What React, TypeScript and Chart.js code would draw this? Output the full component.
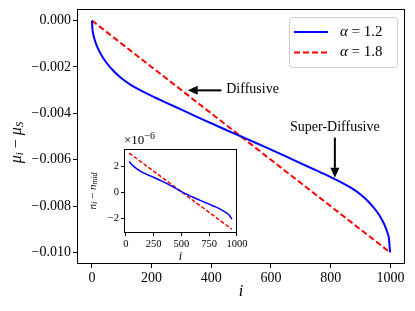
import React, { useEffect, useRef } from 'react';
import { Chart, registerables } from 'chart.js';

Chart.register(...registerables);

const SERIF = '"Liberation Serif", "DejaVu Serif", serif';

// ---------- main chart data ----------
const ALPHAS = [1.2, 1.8];
const X_TICKS = [0, 200, 400, 600, 800, 1000];
const Y_TICKS = [-0.01, -0.008, -0.006, -0.004, -0.002, 0.0];
const X_RANGE = [-50, 1049];
const Y_RANGE = [-0.0105, 0.0005];

const BLUE_I = [0, 2, 5, 10, 20, 35, 50, 75, 100, 130, 160, 200, 250, 300, 350, 400, 450, 500, 550, 600, 650, 700, 750, 800, 840, 870, 900, 925, 950, 965, 980, 990, 995, 999];
const BLUE_MU = [0, -0.0004, -0.00062, -0.00086, -0.0012, -0.00156, -0.00184, -0.00221, -0.0025, -0.00277, -0.00299, -0.00325, -0.00355, -0.00384, -0.00414, -0.00443, -0.00472, -0.005, -0.00528, -0.00557, -0.00586, -0.00616, -0.00645, -0.00675, -0.00701, -0.00723, -0.0075, -0.00779, -0.00816, -0.00844, -0.0088, -0.00914, -0.00938, -0.01];
const RED_I = [0, 999];
const RED_MU = [0, -0.01];

// annotations (data coordinates)
const ANNOT_TEXT = ['Diffusive', 'Super-Diffusive'];
const ANNOT_ALIGN: CanvasTextAlign[] = ['left', 'center'];
const ANNOT_TEXT_POS = [[450, -0.00295], [814, -0.00462]];
const ANNOT_TAIL = [[434, -0.00301], [814, -0.00505]];
const ANNOT_TIP = [[321, -0.00301], [814, -0.00678]];

// ---------- inset data (n_i - n_mid in units of 1e-6) ----------
const INSET_X_TICKS = [0, 250, 500, 750, 1000];
const INSET_Y_TICKS = [-2, 0, 2];
const INSET_X_RANGE = [-16, 1001];
const INSET_Y_RANGE = [-3.14, 3.33];
const INSET_BLUE_I = [30, 60, 100, 130, 175, 250, 325, 400, 450, 500, 550, 600, 675, 750, 800, 850, 900, 930, 955];
const INSET_BLUE_N = [2.37, 2.08, 1.8, 1.63, 1.43, 1.15, 0.85, 0.53, 0.3, 0.05, -0.17, -0.37, -0.65, -0.92, -1.1, -1.3, -1.56, -1.76, -2.07];
const INSET_RED_I = [30, 955];
const INSET_RED_N = [3.02, -2.85];

const BLUE = '#0000ff';
const RED = '#ff0000';

type Seg = { t: string; f: string; dy?: number };

function drawRich(ctx: CanvasRenderingContext2D, segs: Seg[], x: number, y: number, align: 'left' | 'center') {
  let w = 0;
  const ws = segs.map((s) => {
    ctx.font = s.f;
    const m = ctx.measureText(s.t).width;
    w += m;
    return m;
  });
  let cx = align === 'center' ? x - w / 2 : x;
  ctx.textAlign = 'left';
  ctx.textBaseline = 'middle';
  segs.forEach((s, i) => {
    ctx.font = s.f;
    ctx.fillText(s.t, cx, y + (s.dy || 0));
    cx += ws[i];
  });
}

function arrow(ctx: CanvasRenderingContext2D, x1: number, y1: number, x2: number, y2: number) {
  const ang = Math.atan2(y2 - y1, x2 - x1);
  const hl = 10;
  const hw = 4.5;
  const bx = x2 - hl * Math.cos(ang);
  const by = y2 - hl * Math.sin(ang);
  ctx.strokeStyle = '#000';
  ctx.fillStyle = '#000';
  ctx.lineWidth = 2;
  ctx.beginPath();
  ctx.moveTo(x1, y1);
  ctx.lineTo(bx, by);
  ctx.stroke();
  ctx.beginPath();
  ctx.moveTo(x2, y2);
  ctx.lineTo(bx + hw * Math.sin(ang), by - hw * Math.cos(ang));
  ctx.lineTo(bx - hw * Math.sin(ang), by + hw * Math.cos(ang));
  ctx.closePath();
  ctx.fill();
}

const framePlugin = {
  id: 'frame',
  beforeDatasetsDraw(chart: any) {
    const { ctx, chartArea: a } = chart;
    ctx.save();
    ctx.fillStyle = '#fff';
    ctx.fillRect(a.left, a.top, a.right - a.left, a.bottom - a.top);
    ctx.restore();
  },
  afterDraw(chart: any) {
    const { ctx, chartArea: a } = chart;
    ctx.save();
    ctx.strokeStyle = '#000';
    ctx.lineWidth = 1;
    ctx.strokeRect(Math.round(a.left) + 0.5, Math.round(a.top) + 0.5, Math.round(a.right - a.left) - 1, Math.round(a.bottom - a.top) - 1);
    ctx.restore();
  },
};

const mainDecor = {
  id: 'mainDecor',
  afterDraw(chart: any) {
    const { ctx, chartArea: a, scales } = chart;
    const xs = scales.x;
    const ys = scales.y;
    ctx.save();
    ctx.fillStyle = '#000';
    // axis titles
    drawRich(ctx, [{ t: 'i', f: `italic 16px ${SERIF}` }], (a.left + a.right) / 2, 292, 'center');
    ctx.save();
    ctx.translate(17, (a.top + a.bottom) / 2 + 6);
    ctx.rotate(-Math.PI / 2);
    drawRich(
      ctx,
      [
        { t: 'μ', f: `italic 16px ${SERIF}` },
        { t: 'i', f: `italic 11px ${SERIF}`, dy: 3 },
        { t: ' − ', f: `16px ${SERIF}` },
        { t: 'μ', f: `italic 16px ${SERIF}` },
        { t: 'S', f: `italic 11px ${SERIF}`, dy: 3 },
      ],
      0,
      0,
      'center'
    );
    ctx.restore();

    // annotations
    ANNOT_TEXT.forEach((txt, k) => {
      const tx = xs.getPixelForValue(ANNOT_TEXT_POS[k][0]);
      const ty = ys.getPixelForValue(ANNOT_TEXT_POS[k][1]);
      ctx.fillStyle = '#000';
      drawRich(ctx, [{ t: txt, f: `14px ${SERIF}` }], tx, ty, ANNOT_ALIGN[k] === 'left' ? 'left' : 'center');
      arrow(
        ctx,
        xs.getPixelForValue(ANNOT_TAIL[k][0]),
        ys.getPixelForValue(ANNOT_TAIL[k][1]),
        xs.getPixelForValue(ANNOT_TIP[k][0]),
        ys.getPixelForValue(ANNOT_TIP[k][1])
      );
    });

    // legend
    const bw = 108;
    const bh = 50;
    const bx = a.right - 8 - bw;
    const by = a.top + 8;
    ctx.beginPath();
    if ((ctx as any).roundRect) (ctx as any).roundRect(bx + 0.5, by + 0.5, bw, bh, 3);
    else ctx.rect(bx + 0.5, by + 0.5, bw, bh);
    ctx.fillStyle = 'rgba(255,255,255,0.8)';
    ctx.fill();
    ctx.strokeStyle = '#cccccc';
    ctx.lineWidth = 1;
    ctx.stroke();
    chart.data.datasets.forEach((ds: any, k: number) => {
      const ry = by + 15 + k * 20.5;
      ctx.save();
      ctx.strokeStyle = ds.borderColor;
      ctx.lineWidth = ds.borderWidth;
      ctx.setLineDash(ds.borderDash || []);
      ctx.beginPath();
      ctx.moveTo(bx + 5, ry);
      ctx.lineTo(bx + 39, ry);
      ctx.stroke();
      ctx.restore();
      ctx.fillStyle = '#000';
      const lbl: string = ds.label;
      drawRich(ctx, [{ t: lbl.slice(0, 1), f: `italic 15px ${SERIF}` }, { t: lbl.slice(1), f: `15px ${SERIF}` }], bx + 51, ry, 'left');
    });
    ctx.restore();
  },
};

const insetDecor = {
  id: 'insetDecor',
  afterDraw(chart: any) {
    const { ctx, chartArea: a } = chart;
    ctx.save();
    ctx.fillStyle = '#000';
    drawRich(ctx, [{ t: 'i', f: `italic 12px ${SERIF}` }], (a.left + a.right) / 2, a.bottom + 24, 'center');
    drawRich(
      ctx,
      [
        { t: '×10', f: `13px ${SERIF}` },
        { t: '−6', f: `10px ${SERIF}`, dy: -5 },
      ],
      a.left,
      a.top - 8,
      'left'
    );
    ctx.save();
    ctx.translate(11, (a.top + a.bottom) / 2);
    ctx.rotate(-Math.PI / 2);
    drawRich(
      ctx,
      [
        { t: 'n', f: `italic 11px ${SERIF}` },
        { t: 'i', f: `italic 8px ${SERIF}`, dy: 2 },
        { t: ' − ', f: `11px ${SERIF}` },
        { t: 'n', f: `italic 11px ${SERIF}` },
        { t: 'mid', f: `italic 8px ${SERIF}`, dy: 2 },
      ],
      0,
      0,
      'center'
    );
    ctx.restore();
    ctx.restore();
  },
};

const minus = (v: number, d: number) => (v < 0 ? '\u2212' : '') + Math.abs(v).toFixed(d);

function axisCfg(range: number[], ticks: number[], size: number, fontSize: number, tickLen: number, fmt: (v: number) => string, isX: boolean) {
  return {
    type: 'linear',
    min: range[0],
    max: range[1],
    afterBuildTicks: (s: any) => {
      s.ticks = ticks.map((v) => ({ value: v }));
    },
    afterFit: (s: any) => {
      if (isX) s.height = size;
      else s.width = size;
      s.paddingLeft = 0;
      s.paddingRight = 0;
      s.paddingTop = 0;
      s.paddingBottom = 0;
    },
    border: { display: false },
    grid: { display: true, drawOnChartArea: false, drawTicks: true, tickLength: tickLen, tickColor: '#000', tickWidth: 1 },
    ticks: {
      color: '#000',
      font: { family: SERIF, size: fontSize },
      padding: 2,
      maxRotation: 0,
      autoSkip: false,
      callback: (v: any) => fmt(Number(v)),
    },
  };
}

export default function App() {
  const mainRef = useRef<HTMLCanvasElement>(null);
  const insetRef = useRef<HTMLCanvasElement>(null);

  useEffect(() => {
    const main = new Chart(mainRef.current as HTMLCanvasElement, {
      type: 'line',
      data: {
        datasets: [
          {
            label: `α = ${ALPHAS[0]}`,
            data: BLUE_I.map((x, k) => ({ x, y: BLUE_MU[k] })),
            borderColor: BLUE,
            borderWidth: 2,
            pointRadius: 0,
            cubicInterpolationMode: 'monotone',
            fill: false,
          },
          {
            label: `α = ${ALPHAS[1]}`,
            data: RED_I.map((x, k) => ({ x, y: RED_MU[k] })),
            borderColor: RED,
            borderWidth: 2,
            borderDash: [6, 3],
            pointRadius: 0,
            fill: false,
          },
        ],
      } as any,
      options: {
        responsive: false,
        animation: false,
        events: [],
        layout: { padding: { left: 0, right: 10, top: 9, bottom: 0 } },
        plugins: { legend: { display: false }, tooltip: { enabled: false } },
        scales: {
          x: axisCfg(X_RANGE, X_TICKS, 47, 14, 4, (v) => String(v), true),
          y: axisCfg(Y_RANGE, Y_TICKS, 77, 14, 4, (v) => minus(v, 3), false),
        } as any,
      },
      plugins: [framePlugin, mainDecor],
    });

    const inset = new Chart(insetRef.current as HTMLCanvasElement, {
      type: 'line',
      data: {
        datasets: [
          {
            data: INSET_BLUE_I.map((x, k) => ({ x, y: INSET_BLUE_N[k] })),
            borderColor: BLUE,
            borderWidth: 1.5,
            pointRadius: 0,
            cubicInterpolationMode: 'monotone',
            fill: false,
          },
          {
            data: INSET_RED_I.map((x, k) => ({ x, y: INSET_RED_N[k] })),
            borderColor: RED,
            borderWidth: 1.5,
            borderDash: [4, 2],
            pointRadius: 0,
            fill: false,
          },
        ],
      } as any,
      options: {
        responsive: false,
        animation: false,
        events: [],
        layout: { padding: { left: 0, right: 15, top: 21, bottom: 0 } },
        plugins: { legend: { display: false }, tooltip: { enabled: false } },
        scales: {
          x: axisCfg(INSET_X_RANGE, INSET_X_TICKS, 37, 10.5, 3, (v) => String(v), true),
          y: axisCfg(INSET_Y_RANGE, INSET_Y_TICKS, 42, 10.5, 3, (v) => minus(v, 0), false),
        } as any,
      },
      plugins: [framePlugin, insetDecor],
    });

    return () => {
      main.destroy();
      inset.destroy();
    };
  }, []);

  return (
    <div style={{ position: 'fixed', left: 0, top: 0, width: 415, height: 311, background: '#fff' }}>
      <canvas ref={mainRef} width={415} height={311} style={{ position: 'absolute', left: 0, top: 0, width: 415, height: 311 }} />
      <canvas ref={insetRef} width={170} height={142} style={{ position: 'absolute', left: 82, top: 128, width: 170, height: 142 }} />
    </div>
  );
}
